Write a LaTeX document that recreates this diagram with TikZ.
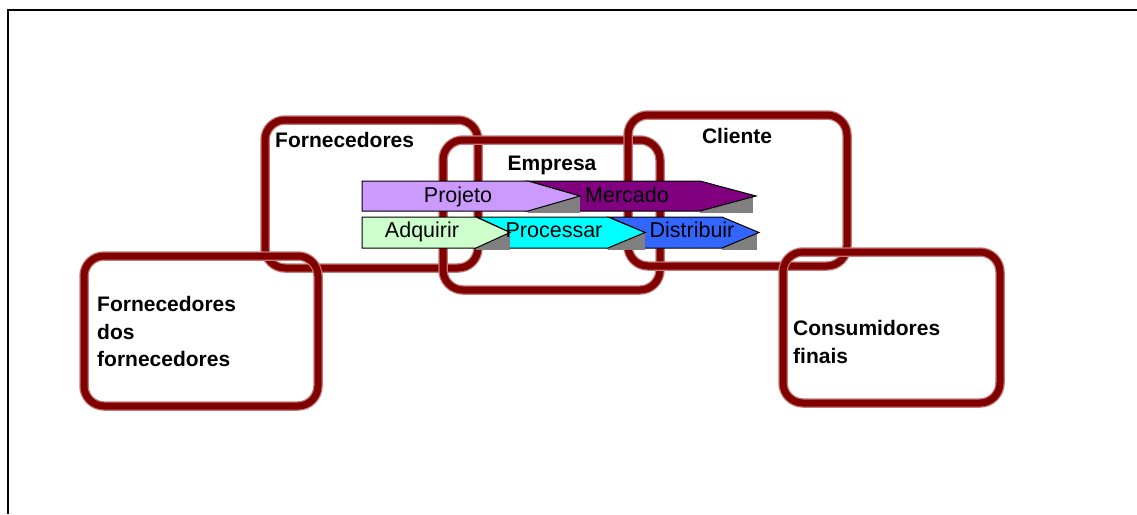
\documentclass[tikz,border=0pt]{standalone}
\usepackage{fontspec}
\setmainfont{Liberation Sans}
\definecolor{tubecore}{RGB}{128,0,0}
\definecolor{tubeedge}{RGB}{196,120,120}
\definecolor{cProjeto}{RGB}{204,153,255}
\definecolor{cMercado}{RGB}{128,0,128}
\definecolor{cAdquirir}{RGB}{204,255,204}
\definecolor{cProcessar}{RGB}{0,255,255}
\definecolor{cDistribuir}{RGB}{51,102,255}
\definecolor{shade}{RGB}{128,128,128}
\begin{document}
\begin{tikzpicture}[x=1pt,y=-1pt,
  frame/.style={rectangle, inner sep=0pt, outer sep=0pt, rounded corners=20pt,
    draw=tubecore, line width=7pt,
    preaction={draw=tubeedge, line width=9.5pt}},
  boxlabel/.style={inner sep=0pt, font=\fontsize{21}{27.7}\selectfont\bfseries, align=left},
  steplabel/.style={inner sep=0pt, font=\fontsize{21.5}{25}\selectfont},
  stepshape/.style={draw=black, line width=1pt, line join=miter},
  stepshadow/.style={fill=shade, draw=none}
]
\useasboundingbox (0,0) rectangle (1137,514);

% outer frame (top and left edges)
\draw[line width=2pt] (8,514) -- (8,10) -- (1137,10);

% rounded boxes
\node[frame, minimum width=213pt, minimum height=148pt] (forn) at (371.5,194) {};
\node[frame, minimum width=234pt, minimum height=150pt] (fdf) at (201,331) {};
\node[frame, minimum width=217pt, minimum height=150pt] (emp) at (551.5,215) {};
\node[frame, minimum width=219pt, minimum height=151pt] (cli) at (737.5,190.5) {};
\node[frame, minimum width=217pt, minimum height=151pt] (cons) at (891.5,327.5) {};

% box titles
\node[boxlabel, anchor=base west] (tforn) at (275,147) {Fornecedores};
\node[boxlabel, anchor=base] (temp) at (552,170) {Empresa};
\node[boxlabel, anchor=base] (tcli) at (737,143) {Cliente};
\node[boxlabel, anchor=north west] (tfdf) at (97,296) {Fornecedores\\dos\\fornecedores};
\node[boxlabel, anchor=north west] (tcons) at (793,320) {Consumidores\\finais};

% upper row: Projeto -> Mercado (each shadow sits behind its own step)
\fill[stepshadow] (700,196) rectangle (753,213);
\draw[stepshape, fill=cMercado] (528,181) -- (700,181) -- (756,196) -- (700,211) -- (528,211) -- (580,196) -- cycle;
\fill[stepshadow] (528,196) rectangle (580,213);
\draw[stepshape, fill=cProjeto] (362,181) -- (528,181) -- (580,196) -- (528,211) -- (362,211) -- cycle;
\node[steplabel, anchor=base] (lproj) at (458,202) {Projeto};
\node[steplabel, anchor=base] (lmerc) at (627,202) {Mercado};

% lower row: Adquirir -> Processar -> Distribuir
\fill[stepshadow] (722,232.5) rectangle (757,250);
\draw[stepshape, fill=cDistribuir] (609,217) -- (722,217) -- (759,232.5) -- (722,248) -- (609,248) -- (645,232.5) -- cycle;
\fill[stepshadow] (608,232.5) rectangle (645,250);
\draw[stepshape, fill=cProcessar] (477,217) -- (608,217) -- (645,232.5) -- (608,248) -- (477,248) -- (510,232.5) -- cycle;
\fill[stepshadow] (476,232.5) rectangle (510,250);
\draw[stepshape, fill=cAdquirir] (362,217) -- (476,217) -- (510,232.5) -- (476,248) -- (362,248) -- cycle;
\node[steplabel, anchor=base] (ladq) at (422,237.5) {Adquirir};
\node[steplabel, anchor=base] (lproc) at (554,237.5) {Processar};
\node[steplabel, anchor=base] (ldist) at (692,237.5) {Distribuir};
\end{tikzpicture}
\end{document}
